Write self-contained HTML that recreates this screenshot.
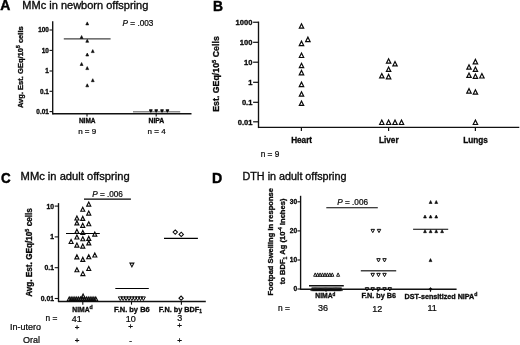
<!DOCTYPE html>
<html lang="en">
<head>
<meta charset="utf-8">
<title>Figure</title>
<style>
html,body{margin:0;padding:0;background:#fff;}
body{width:520px;height:345px;overflow:hidden;}
svg{display:block;will-change:transform;filter:grayscale(1) blur(0.3px);font-family:"Liberation Sans",sans-serif;}
</style>
</head>
<body>
<svg width="520" height="345" viewBox="0 0 520 345">
<rect width="520" height="345" fill="#fff"/>
<text transform="translate(0.3,10.3) scale(0.97,1)" font-size="14.4" font-weight="bold" fill="#000" stroke="#000" stroke-width="0.45">A</text>
<text x="22.3" y="9.4" font-size="10.0" font-weight="normal" text-anchor="start" fill="#0a0a0a" stroke="#0a0a0a" stroke-width="0.32" textLength="126" lengthAdjust="spacingAndGlyphs">MMc in newborn offspring</text>
<line x1="52.7" y1="21.3" x2="52.7" y2="114.42" stroke="#111" stroke-width="1.35"/>
<line x1="52.7" y1="113.75" x2="191.5" y2="113.75" stroke="#111" stroke-width="1.35"/>
<line x1="49.5" y1="30" x2="52.7" y2="30" stroke="#111" stroke-width="1.1"/>
<text x="48.8" y="32.3" font-size="6.4" font-weight="bold" text-anchor="end" fill="#0a0a0a" stroke="#0a0a0a" stroke-width="0.32" >100</text>
<line x1="49.5" y1="50.4" x2="52.7" y2="50.4" stroke="#111" stroke-width="1.1"/>
<text x="48.8" y="52.7" font-size="6.4" font-weight="bold" text-anchor="end" fill="#0a0a0a" stroke="#0a0a0a" stroke-width="0.32" >10</text>
<line x1="49.5" y1="71" x2="52.7" y2="71" stroke="#111" stroke-width="1.1"/>
<text x="48.8" y="73.3" font-size="6.4" font-weight="bold" text-anchor="end" fill="#0a0a0a" stroke="#0a0a0a" stroke-width="0.32" >1</text>
<line x1="49.5" y1="91.3" x2="52.7" y2="91.3" stroke="#111" stroke-width="1.1"/>
<text x="48.8" y="93.6" font-size="6.4" font-weight="bold" text-anchor="end" fill="#0a0a0a" stroke="#0a0a0a" stroke-width="0.32" >0.1</text>
<line x1="49.5" y1="111.6" x2="52.7" y2="111.6" stroke="#111" stroke-width="1.1"/>
<text x="48.8" y="113.9" font-size="6.4" font-weight="bold" text-anchor="end" fill="#0a0a0a" stroke="#0a0a0a" stroke-width="0.32" >0.01</text>
<text transform="translate(22.8,67.2) rotate(-90)" font-size="7.55" font-weight="bold" text-anchor="middle" fill="#0a0a0a" stroke="#0a0a0a" stroke-width="0.32" >Avg. Est. GEq/10<tspan dy="-2.8" font-size="5">5</tspan><tspan dy="2.8"> cells</tspan></text>
<line x1="87" y1="113.75" x2="87" y2="116.45" stroke="#111" stroke-width="1.1"/>
<text x="87.2" y="122.6" font-size="6.5" font-weight="bold" text-anchor="middle" fill="#0a0a0a" stroke="#0a0a0a" stroke-width="0.32" >NIMA</text>
<text x="87.2" y="133.5" font-size="8" font-weight="normal" text-anchor="middle" fill="#0a0a0a" stroke="#0a0a0a" stroke-width="0.24" >n = 9</text>
<line x1="156.2" y1="113.75" x2="156.2" y2="116.45" stroke="#111" stroke-width="1.1"/>
<text x="156.4" y="122.6" font-size="6.8" font-weight="bold" text-anchor="middle" fill="#0a0a0a" stroke="#0a0a0a" stroke-width="0.32" >NIPA</text>
<text x="156.6" y="133.5" font-size="8" font-weight="normal" text-anchor="middle" fill="#0a0a0a" stroke="#0a0a0a" stroke-width="0.24" >n = 4</text>
<text x="122.6" y="26" font-size="8.2" font-weight="normal" text-anchor="start" fill="#0a0a0a" stroke="#0a0a0a" stroke-width="0.24" ><tspan font-style="italic">P</tspan> = .003</text>
<line x1="63.8" y1="38.9" x2="110.6" y2="38.9" stroke="#444" stroke-width="1.4"/>
<line x1="133" y1="111.75" x2="180.2" y2="111.75" stroke="#8c8c8c" stroke-width="1.7"/>
<path d="M85.80,24.90 L87.25,21.90 L88.70,24.90 Z" fill="#0a0a0a" stroke="#0a0a0a" stroke-width="0.6" stroke-linejoin="miter"/>
<path d="M80.15,38.50 L81.60,35.50 L83.05,38.50 Z" fill="#0a0a0a" stroke="#0a0a0a" stroke-width="0.6" stroke-linejoin="miter"/>
<path d="M85.80,42.30 L87.25,39.30 L88.70,42.30 Z" fill="#0a0a0a" stroke="#0a0a0a" stroke-width="0.6" stroke-linejoin="miter"/>
<path d="M91.30,52.60 L92.75,49.60 L94.20,52.60 Z" fill="#0a0a0a" stroke="#0a0a0a" stroke-width="0.6" stroke-linejoin="miter"/>
<path d="M85.80,56.00 L87.25,53.00 L88.70,56.00 Z" fill="#0a0a0a" stroke="#0a0a0a" stroke-width="0.6" stroke-linejoin="miter"/>
<path d="M80.15,65.50 L81.60,62.50 L83.05,65.50 Z" fill="#0a0a0a" stroke="#0a0a0a" stroke-width="0.6" stroke-linejoin="miter"/>
<path d="M85.80,69.60 L87.25,66.60 L88.70,69.60 Z" fill="#0a0a0a" stroke="#0a0a0a" stroke-width="0.6" stroke-linejoin="miter"/>
<path d="M91.30,81.70 L92.75,78.70 L94.20,81.70 Z" fill="#0a0a0a" stroke="#0a0a0a" stroke-width="0.6" stroke-linejoin="miter"/>
<path d="M85.80,86.80 L87.25,83.80 L88.70,86.80 Z" fill="#0a0a0a" stroke="#0a0a0a" stroke-width="0.6" stroke-linejoin="miter"/>
<path d="M149.65,109.9 L150.80,111.9 L151.95,109.9 Z" fill="#0a0a0a" stroke="#0a0a0a" stroke-width="1.3" stroke-linejoin="round"/>
<path d="M155.05,109.9 L156.20,111.9 L157.35,109.9 Z" fill="#0a0a0a" stroke="#0a0a0a" stroke-width="1.3" stroke-linejoin="round"/>
<path d="M160.85,109.9 L162.00,111.9 L163.15,109.9 Z" fill="#0a0a0a" stroke="#0a0a0a" stroke-width="1.3" stroke-linejoin="round"/>
<path d="M166.25,109.9 L167.40,111.9 L168.55,109.9 Z" fill="#0a0a0a" stroke="#0a0a0a" stroke-width="1.3" stroke-linejoin="round"/>
<text transform="translate(212.9,10.7) scale(1.0,1)" font-size="13.8" font-weight="bold" fill="#000" stroke="#000" stroke-width="0.45">B</text>
<line x1="258.5" y1="21.6" x2="258.5" y2="128.08" stroke="#111" stroke-width="1.35"/>
<line x1="258.5" y1="127.4" x2="519.3" y2="127.4" stroke="#111" stroke-width="1.35"/>
<line x1="253.1" y1="22.25" x2="258.5" y2="22.25" stroke="#111" stroke-width="1.2"/>
<text x="252.4" y="24.95" font-size="7.55" font-weight="bold" text-anchor="end" fill="#0a0a0a" stroke="#0a0a0a" stroke-width="0.32" >1000</text>
<line x1="253.1" y1="42.3" x2="258.5" y2="42.3" stroke="#111" stroke-width="1.2"/>
<text x="252.4" y="45.0" font-size="7.55" font-weight="bold" text-anchor="end" fill="#0a0a0a" stroke="#0a0a0a" stroke-width="0.32" >100</text>
<line x1="253.1" y1="62.2" x2="258.5" y2="62.2" stroke="#111" stroke-width="1.2"/>
<text x="252.4" y="64.9" font-size="7.55" font-weight="bold" text-anchor="end" fill="#0a0a0a" stroke="#0a0a0a" stroke-width="0.32" >10</text>
<line x1="253.1" y1="82.3" x2="258.5" y2="82.3" stroke="#111" stroke-width="1.2"/>
<text x="252.4" y="85.0" font-size="7.55" font-weight="bold" text-anchor="end" fill="#0a0a0a" stroke="#0a0a0a" stroke-width="0.32" >1</text>
<line x1="253.1" y1="102.3" x2="258.5" y2="102.3" stroke="#111" stroke-width="1.2"/>
<text x="252.4" y="105.0" font-size="7.55" font-weight="bold" text-anchor="end" fill="#0a0a0a" stroke="#0a0a0a" stroke-width="0.32" >0.1</text>
<line x1="253.1" y1="121.8" x2="258.5" y2="121.8" stroke="#111" stroke-width="1.2"/>
<text x="252.4" y="124.5" font-size="7.55" font-weight="bold" text-anchor="end" fill="#0a0a0a" stroke="#0a0a0a" stroke-width="0.32" >0.01</text>
<text transform="translate(219.3,74) rotate(-90)" font-size="8.8" font-weight="bold" text-anchor="middle" fill="#0a0a0a" stroke="#0a0a0a" stroke-width="0.32" >Est. GEq/10<tspan dy="-3.2" font-size="5.8">5</tspan><tspan dy="3.2"> Cells</tspan></text>
<line x1="301.4" y1="127.4" x2="301.4" y2="131.1" stroke="#111" stroke-width="1.2"/>
<text x="301.6" y="142.9" font-size="8.2" font-weight="bold" text-anchor="middle" fill="#0a0a0a" stroke="#0a0a0a" stroke-width="0.32" >Heart</text>
<line x1="388.6" y1="127.4" x2="388.6" y2="131.1" stroke="#111" stroke-width="1.2"/>
<text x="388.8" y="142.9" font-size="8.2" font-weight="bold" text-anchor="middle" fill="#0a0a0a" stroke="#0a0a0a" stroke-width="0.32" >Liver</text>
<line x1="475.4" y1="127.4" x2="475.4" y2="131.1" stroke="#111" stroke-width="1.2"/>
<text x="475.6" y="142.9" font-size="8.2" font-weight="bold" text-anchor="middle" fill="#0a0a0a" stroke="#0a0a0a" stroke-width="0.32" >Lungs</text>
<text x="260.7" y="157.2" font-size="8.3" font-weight="normal" text-anchor="start" fill="#0a0a0a" stroke="#0a0a0a" stroke-width="0.24" >n = 9</text>
<path d="M299.30,28.20 L301.50,23.80 L303.70,28.20 Z" fill="none" stroke="#0a0a0a" stroke-width="1.2" stroke-linejoin="miter"/>
<path d="M305.70,41.60 L307.90,37.20 L310.10,41.60 Z" fill="none" stroke="#0a0a0a" stroke-width="1.2" stroke-linejoin="miter"/>
<path d="M299.30,45.60 L301.50,41.20 L303.70,45.60 Z" fill="none" stroke="#0a0a0a" stroke-width="1.2" stroke-linejoin="miter"/>
<path d="M299.30,57.50 L301.50,53.10 L303.70,57.50 Z" fill="none" stroke="#0a0a0a" stroke-width="1.2" stroke-linejoin="miter"/>
<path d="M299.30,67.70 L301.50,63.30 L303.70,67.70 Z" fill="none" stroke="#0a0a0a" stroke-width="1.2" stroke-linejoin="miter"/>
<path d="M299.30,74.80 L301.50,70.40 L303.70,74.80 Z" fill="none" stroke="#0a0a0a" stroke-width="1.2" stroke-linejoin="miter"/>
<path d="M299.30,86.60 L301.50,82.20 L303.70,86.60 Z" fill="none" stroke="#0a0a0a" stroke-width="1.2" stroke-linejoin="miter"/>
<path d="M299.30,96.20 L301.50,91.80 L303.70,96.20 Z" fill="none" stroke="#0a0a0a" stroke-width="1.2" stroke-linejoin="miter"/>
<path d="M299.30,105.40 L301.50,101.00 L303.70,105.40 Z" fill="none" stroke="#0a0a0a" stroke-width="1.2" stroke-linejoin="miter"/>
<path d="M386.40,63.20 L388.60,58.80 L390.80,63.20 Z" fill="none" stroke="#0a0a0a" stroke-width="1.2" stroke-linejoin="miter"/>
<path d="M392.80,65.90 L395.00,61.50 L397.20,65.90 Z" fill="none" stroke="#0a0a0a" stroke-width="1.2" stroke-linejoin="miter"/>
<path d="M386.40,71.40 L388.60,67.00 L390.80,71.40 Z" fill="none" stroke="#0a0a0a" stroke-width="1.2" stroke-linejoin="miter"/>
<path d="M379.60,77.90 L381.80,73.50 L384.00,77.90 Z" fill="none" stroke="#0a0a0a" stroke-width="1.2" stroke-linejoin="miter"/>
<path d="M386.40,78.80 L388.60,74.40 L390.80,78.80 Z" fill="none" stroke="#0a0a0a" stroke-width="1.2" stroke-linejoin="miter"/>
<path d="M379.60,124.50 L381.80,120.10 L384.00,124.50 Z" fill="none" stroke="#0a0a0a" stroke-width="1.2" stroke-linejoin="miter"/>
<path d="M386.40,124.50 L388.60,120.10 L390.80,124.50 Z" fill="none" stroke="#0a0a0a" stroke-width="1.2" stroke-linejoin="miter"/>
<path d="M392.80,124.50 L395.00,120.10 L397.20,124.50 Z" fill="none" stroke="#0a0a0a" stroke-width="1.2" stroke-linejoin="miter"/>
<path d="M399.30,124.50 L401.50,120.10 L403.70,124.50 Z" fill="none" stroke="#0a0a0a" stroke-width="1.2" stroke-linejoin="miter"/>
<path d="M473.20,63.80 L475.40,59.40 L477.60,63.80 Z" fill="none" stroke="#0a0a0a" stroke-width="1.2" stroke-linejoin="miter"/>
<path d="M466.80,69.20 L469.00,64.80 L471.20,69.20 Z" fill="none" stroke="#0a0a0a" stroke-width="1.2" stroke-linejoin="miter"/>
<path d="M473.20,71.40 L475.40,67.00 L477.60,71.40 Z" fill="none" stroke="#0a0a0a" stroke-width="1.2" stroke-linejoin="miter"/>
<path d="M466.80,77.40 L469.00,73.00 L471.20,77.40 Z" fill="none" stroke="#0a0a0a" stroke-width="1.2" stroke-linejoin="miter"/>
<path d="M473.20,78.40 L475.40,74.00 L477.60,78.40 Z" fill="none" stroke="#0a0a0a" stroke-width="1.2" stroke-linejoin="miter"/>
<path d="M479.70,78.00 L481.90,73.60 L484.10,78.00 Z" fill="none" stroke="#0a0a0a" stroke-width="1.2" stroke-linejoin="miter"/>
<path d="M466.80,93.10 L469.00,88.70 L471.20,93.10 Z" fill="none" stroke="#0a0a0a" stroke-width="1.2" stroke-linejoin="miter"/>
<path d="M473.20,94.20 L475.40,89.80 L477.60,94.20 Z" fill="none" stroke="#0a0a0a" stroke-width="1.2" stroke-linejoin="miter"/>
<path d="M473.20,124.50 L475.40,120.10 L477.60,124.50 Z" fill="none" stroke="#0a0a0a" stroke-width="1.2" stroke-linejoin="miter"/>
<text transform="translate(0.9,183.2) scale(0.93,1)" font-size="14.4" font-weight="bold" fill="#000" stroke="#000" stroke-width="0.45">C</text>
<text x="20.6" y="180.1" font-size="10.0" font-weight="normal" text-anchor="start" fill="#0a0a0a" stroke="#0a0a0a" stroke-width="0.32" textLength="109" lengthAdjust="spacingAndGlyphs">MMc in adult offspring</text>
<line x1="58.5" y1="203.1" x2="58.5" y2="302.12" stroke="#111" stroke-width="1.35"/>
<line x1="58.5" y1="301.45" x2="205.8" y2="301.45" stroke="#111" stroke-width="1.35"/>
<line x1="54.7" y1="206.1" x2="58.5" y2="206.1" stroke="#111" stroke-width="1.1"/>
<text x="54.0" y="208.55" font-size="6.8" font-weight="bold" text-anchor="end" fill="#0a0a0a" stroke="#0a0a0a" stroke-width="0.32" >10</text>
<line x1="54.7" y1="236.9" x2="58.5" y2="236.9" stroke="#111" stroke-width="1.1"/>
<text x="54.0" y="239.35" font-size="6.8" font-weight="bold" text-anchor="end" fill="#0a0a0a" stroke="#0a0a0a" stroke-width="0.32" >1</text>
<line x1="54.7" y1="267.7" x2="58.5" y2="267.7" stroke="#111" stroke-width="1.1"/>
<text x="54.0" y="270.15" font-size="6.8" font-weight="bold" text-anchor="end" fill="#0a0a0a" stroke="#0a0a0a" stroke-width="0.32" >0.1</text>
<line x1="54.7" y1="298.5" x2="58.5" y2="298.5" stroke="#111" stroke-width="1.1"/>
<text x="54.0" y="300.95" font-size="6.8" font-weight="bold" text-anchor="end" fill="#0a0a0a" stroke="#0a0a0a" stroke-width="0.32" >0.01</text>
<text transform="translate(31.6,252.5) rotate(-90)" font-size="8.2" font-weight="bold" text-anchor="middle" fill="#0a0a0a" stroke="#0a0a0a" stroke-width="0.32" >Avg. Est. GEq/10<tspan dy="-3" font-size="5.4">5</tspan><tspan dy="3"> cells</tspan></text>
<text x="92.2" y="196.9" font-size="8.2" font-weight="normal" text-anchor="start" fill="#0a0a0a" stroke="#0a0a0a" stroke-width="0.24" ><tspan font-style="italic">P</tspan> = .006</text>
<line x1="84" y1="199.1" x2="130.9" y2="199.1" stroke="#000" stroke-width="1.2"/>
<line x1="82.8" y1="301.45" x2="82.8" y2="304.65" stroke="#111" stroke-width="1.1"/>
<line x1="131.5" y1="301.45" x2="131.5" y2="304.65" stroke="#111" stroke-width="1.1"/>
<line x1="181.4" y1="301.45" x2="181.4" y2="304.65" stroke="#111" stroke-width="1.1"/>
<text x="82.5" y="311.5" font-size="6.75" font-weight="bold" text-anchor="middle" fill="#0a0a0a" stroke="#0a0a0a" stroke-width="0.32" >NIMA<tspan dy="-2.6" font-size="5.2">d</tspan></text>
<text x="131.8" y="311.5" font-size="7.5" font-weight="bold" text-anchor="middle" fill="#0a0a0a" stroke="#0a0a0a" stroke-width="0.32" >F.N. by B6</text>
<text x="180.4" y="311.5" font-size="7.3" font-weight="bold" text-anchor="middle" fill="#0a0a0a" stroke="#0a0a0a" stroke-width="0.32" >F.N. by BDF<tspan dy="1.6" font-size="4.8">1</tspan></text>
<text x="45.5" y="320.5" font-size="8.4" font-weight="normal" text-anchor="start" fill="#0a0a0a" stroke="#0a0a0a" stroke-width="0.24" >n =</text>
<text x="76.7" y="322" font-size="9" font-weight="normal" text-anchor="middle" fill="#0a0a0a" stroke="#0a0a0a" stroke-width="0.24" >41</text>
<text x="130.8" y="321.7" font-size="9" font-weight="normal" text-anchor="middle" fill="#0a0a0a" stroke="#0a0a0a" stroke-width="0.24" >10</text>
<text x="179.7" y="321" font-size="9" font-weight="normal" text-anchor="middle" fill="#0a0a0a" stroke="#0a0a0a" stroke-width="0.24" >3</text>
<text x="41" y="329.9" font-size="9" font-weight="normal" text-anchor="end" fill="#0a0a0a" stroke="#0a0a0a" stroke-width="0.24" >In-utero</text>
<text x="40.1" y="342.6" font-size="9" font-weight="normal" text-anchor="end" fill="#0a0a0a" stroke="#0a0a0a" stroke-width="0.24" >Oral</text>
<text x="77.2" y="330.4" font-size="8" font-weight="normal" text-anchor="middle" fill="#0a0a0a" stroke="#0a0a0a" stroke-width="0.3" >+</text>
<text x="77.2" y="342.8" font-size="8" font-weight="normal" text-anchor="middle" fill="#0a0a0a" stroke="#0a0a0a" stroke-width="0.3" >+</text>
<text x="130.6" y="329.3" font-size="8" font-weight="normal" text-anchor="middle" fill="#0a0a0a" stroke="#0a0a0a" stroke-width="0.3" >+</text>
<text x="130.6" y="343.3" font-size="8" font-weight="normal" text-anchor="middle" fill="#0a0a0a" stroke="#0a0a0a" stroke-width="0.3" >-</text>
<text x="179.6" y="328.2" font-size="8" font-weight="normal" text-anchor="middle" fill="#0a0a0a" stroke="#0a0a0a" stroke-width="0.3" >+</text>
<text x="179.6" y="342.5" font-size="8" font-weight="normal" text-anchor="middle" fill="#0a0a0a" stroke="#0a0a0a" stroke-width="0.3" >+</text>
<line x1="66" y1="233.5" x2="99.8" y2="233.5" stroke="#000" stroke-width="1.1"/>
<line x1="115.3" y1="288.5" x2="148.8" y2="288.5" stroke="#000" stroke-width="1.1"/>
<line x1="164" y1="238.4" x2="197.9" y2="238.4" stroke="#000" stroke-width="1.1"/>
<path d="M86.75,206.10 L88.75,202.10 L90.75,206.10 Z" fill="none" stroke="#0a0a0a" stroke-width="1.15" stroke-linejoin="miter"/>
<path d="M80.75,211.20 L82.75,207.20 L84.75,211.20 Z" fill="none" stroke="#0a0a0a" stroke-width="1.15" stroke-linejoin="miter"/>
<path d="M86.75,215.10 L88.75,211.10 L90.75,215.10 Z" fill="none" stroke="#0a0a0a" stroke-width="1.15" stroke-linejoin="miter"/>
<path d="M74.90,220.00 L76.90,216.00 L78.90,220.00 Z" fill="none" stroke="#0a0a0a" stroke-width="1.15" stroke-linejoin="miter"/>
<path d="M80.75,220.40 L82.75,216.40 L84.75,220.40 Z" fill="none" stroke="#0a0a0a" stroke-width="1.15" stroke-linejoin="miter"/>
<path d="M86.75,225.70 L88.75,221.70 L90.75,225.70 Z" fill="none" stroke="#0a0a0a" stroke-width="1.15" stroke-linejoin="miter"/>
<path d="M74.90,224.90 L76.90,220.90 L78.90,224.90 Z" fill="none" stroke="#0a0a0a" stroke-width="1.15" stroke-linejoin="miter"/>
<path d="M80.75,227.30 L82.75,223.30 L84.75,227.30 Z" fill="none" stroke="#0a0a0a" stroke-width="1.15" stroke-linejoin="miter"/>
<path d="M74.90,233.30 L76.90,229.30 L78.90,233.30 Z" fill="none" stroke="#0a0a0a" stroke-width="1.15" stroke-linejoin="miter"/>
<path d="M80.80,234.50 L82.80,230.50 L84.80,234.50 Z" fill="none" stroke="#0a0a0a" stroke-width="1.15" stroke-linejoin="miter"/>
<path d="M92.80,236.10 L94.80,232.10 L96.80,236.10 Z" fill="none" stroke="#0a0a0a" stroke-width="1.15" stroke-linejoin="miter"/>
<path d="M74.90,239.00 L76.90,235.00 L78.90,239.00 Z" fill="none" stroke="#0a0a0a" stroke-width="1.15" stroke-linejoin="miter"/>
<path d="M80.80,240.70 L82.80,236.70 L84.80,240.70 Z" fill="none" stroke="#0a0a0a" stroke-width="1.15" stroke-linejoin="miter"/>
<path d="M86.75,240.40 L88.75,236.40 L90.75,240.40 Z" fill="none" stroke="#0a0a0a" stroke-width="1.15" stroke-linejoin="miter"/>
<path d="M69.10,243.50 L71.10,239.50 L73.10,243.50 Z" fill="none" stroke="#0a0a0a" stroke-width="1.15" stroke-linejoin="miter"/>
<path d="M86.75,244.90 L88.75,240.90 L90.75,244.90 Z" fill="none" stroke="#0a0a0a" stroke-width="1.15" stroke-linejoin="miter"/>
<path d="M74.90,247.10 L76.90,243.10 L78.90,247.10 Z" fill="none" stroke="#0a0a0a" stroke-width="1.15" stroke-linejoin="miter"/>
<path d="M80.80,248.10 L82.80,244.10 L84.80,248.10 Z" fill="none" stroke="#0a0a0a" stroke-width="1.15" stroke-linejoin="miter"/>
<path d="M92.80,257.00 L94.80,253.00 L96.80,257.00 Z" fill="none" stroke="#0a0a0a" stroke-width="1.15" stroke-linejoin="miter"/>
<path d="M74.90,258.80 L76.90,254.80 L78.90,258.80 Z" fill="none" stroke="#0a0a0a" stroke-width="1.15" stroke-linejoin="miter"/>
<path d="M80.80,261.40 L82.80,257.40 L84.80,261.40 Z" fill="none" stroke="#0a0a0a" stroke-width="1.15" stroke-linejoin="miter"/>
<path d="M86.75,258.70 L88.75,254.70 L90.75,258.70 Z" fill="none" stroke="#0a0a0a" stroke-width="1.15" stroke-linejoin="miter"/>
<path d="M74.90,271.70 L76.90,267.70 L78.90,271.70 Z" fill="none" stroke="#0a0a0a" stroke-width="1.15" stroke-linejoin="miter"/>
<path d="M80.90,275.60 L82.90,271.60 L84.90,275.60 Z" fill="none" stroke="#0a0a0a" stroke-width="1.15" stroke-linejoin="miter"/>
<path d="M86.75,270.50 L88.75,266.50 L90.75,270.50 Z" fill="none" stroke="#0a0a0a" stroke-width="1.15" stroke-linejoin="miter"/>
<path d="M67.20,301.00 L69.20,297.00 L71.20,301.00 Z" fill="none" stroke="#0a0a0a" stroke-width="1.15" stroke-linejoin="miter"/>
<path d="M69.10,301.00 L71.10,297.00 L73.10,301.00 Z" fill="none" stroke="#0a0a0a" stroke-width="1.15" stroke-linejoin="miter"/>
<path d="M71.00,301.00 L73.00,297.00 L75.00,301.00 Z" fill="none" stroke="#0a0a0a" stroke-width="1.15" stroke-linejoin="miter"/>
<path d="M72.90,301.00 L74.90,297.00 L76.90,301.00 Z" fill="none" stroke="#0a0a0a" stroke-width="1.15" stroke-linejoin="miter"/>
<path d="M74.80,301.00 L76.80,297.00 L78.80,301.00 Z" fill="none" stroke="#0a0a0a" stroke-width="1.15" stroke-linejoin="miter"/>
<path d="M76.70,301.00 L78.70,297.00 L80.70,301.00 Z" fill="none" stroke="#0a0a0a" stroke-width="1.15" stroke-linejoin="miter"/>
<path d="M78.60,301.00 L80.60,297.00 L82.60,301.00 Z" fill="none" stroke="#0a0a0a" stroke-width="1.15" stroke-linejoin="miter"/>
<path d="M80.50,301.00 L82.50,297.00 L84.50,301.00 Z" fill="none" stroke="#0a0a0a" stroke-width="1.15" stroke-linejoin="miter"/>
<path d="M82.40,301.00 L84.40,297.00 L86.40,301.00 Z" fill="none" stroke="#0a0a0a" stroke-width="1.15" stroke-linejoin="miter"/>
<path d="M84.30,301.00 L86.30,297.00 L88.30,301.00 Z" fill="none" stroke="#0a0a0a" stroke-width="1.15" stroke-linejoin="miter"/>
<path d="M86.20,301.00 L88.20,297.00 L90.20,301.00 Z" fill="none" stroke="#0a0a0a" stroke-width="1.15" stroke-linejoin="miter"/>
<path d="M88.10,301.00 L90.10,297.00 L92.10,301.00 Z" fill="none" stroke="#0a0a0a" stroke-width="1.15" stroke-linejoin="miter"/>
<path d="M90.00,301.00 L92.00,297.00 L94.00,301.00 Z" fill="none" stroke="#0a0a0a" stroke-width="1.15" stroke-linejoin="miter"/>
<path d="M91.90,301.00 L93.90,297.00 L95.90,301.00 Z" fill="none" stroke="#0a0a0a" stroke-width="1.15" stroke-linejoin="miter"/>
<path d="M93.80,301.00 L95.80,297.00 L97.80,301.00 Z" fill="none" stroke="#0a0a0a" stroke-width="1.15" stroke-linejoin="miter"/>
<path d="M81.10,298.10 L83.10,294.10 L85.10,298.10 Z" fill="none" stroke="#0a0a0a" stroke-width="1.15" stroke-linejoin="miter"/>
<path d="M129.90,263.10 L131.90,266.90 L133.90,263.10 Z" fill="none" stroke="#0a0a0a" stroke-width="1.05" stroke-linejoin="miter"/>
<path d="M118.30,296.90 L120.30,300.50 L122.30,296.90 Z" fill="none" stroke="#0a0a0a" stroke-width="1.0" stroke-linejoin="miter"/>
<path d="M121.19,296.90 L123.19,300.50 L125.19,296.90 Z" fill="none" stroke="#0a0a0a" stroke-width="1.0" stroke-linejoin="miter"/>
<path d="M124.08,296.90 L126.08,300.50 L128.07,296.90 Z" fill="none" stroke="#0a0a0a" stroke-width="1.0" stroke-linejoin="miter"/>
<path d="M126.96,296.90 L128.96,300.50 L130.96,296.90 Z" fill="none" stroke="#0a0a0a" stroke-width="1.0" stroke-linejoin="miter"/>
<path d="M129.85,296.90 L131.85,300.50 L133.85,296.90 Z" fill="none" stroke="#0a0a0a" stroke-width="1.0" stroke-linejoin="miter"/>
<path d="M132.74,296.90 L134.74,300.50 L136.74,296.90 Z" fill="none" stroke="#0a0a0a" stroke-width="1.0" stroke-linejoin="miter"/>
<path d="M135.62,296.90 L137.62,300.50 L139.62,296.90 Z" fill="none" stroke="#0a0a0a" stroke-width="1.0" stroke-linejoin="miter"/>
<path d="M138.51,296.90 L140.51,300.50 L142.51,296.90 Z" fill="none" stroke="#0a0a0a" stroke-width="1.0" stroke-linejoin="miter"/>
<path d="M141.40,296.90 L143.40,300.50 L145.40,296.90 Z" fill="none" stroke="#0a0a0a" stroke-width="1.0" stroke-linejoin="miter"/>
<path d="M173.05,232.10 L175.25,229.90 L177.45,232.10 L175.25,234.30 Z" fill="none" stroke="#0a0a0a" stroke-width="1.05"/>
<path d="M179.05,234.40 L181.25,232.20 L183.45,234.40 L181.25,236.60 Z" fill="none" stroke="#0a0a0a" stroke-width="1.05"/>
<path d="M179.00,298.20 L181.10,296.10 L183.20,298.20 L181.10,300.30 Z" fill="none" stroke="#0a0a0a" stroke-width="1.1"/>
<text transform="translate(212.0,183.3) scale(0.98,1)" font-size="14.4" font-weight="bold" fill="#000" stroke="#000" stroke-width="0.45">D</text>
<text x="242.5" y="180.3" font-size="10.0" font-weight="normal" text-anchor="start" fill="#0a0a0a" stroke="#0a0a0a" stroke-width="0.32" textLength="104" lengthAdjust="spacingAndGlyphs">DTH in adult offspring</text>
<line x1="300.6" y1="195.8" x2="300.6" y2="289.88" stroke="#111" stroke-width="1.35"/>
<line x1="300.6" y1="289.2" x2="456.6" y2="289.2" stroke="#111" stroke-width="1.35"/>
<line x1="297.4" y1="201.8" x2="300.6" y2="201.8" stroke="#111" stroke-width="1.1"/>
<text x="297.1" y="204.2" font-size="6.6" font-weight="bold" text-anchor="end" fill="#0a0a0a" stroke="#0a0a0a" stroke-width="0.32" >30</text>
<line x1="297.4" y1="230.9" x2="300.6" y2="230.9" stroke="#111" stroke-width="1.1"/>
<text x="297.1" y="233.3" font-size="6.6" font-weight="bold" text-anchor="end" fill="#0a0a0a" stroke="#0a0a0a" stroke-width="0.32" >20</text>
<line x1="297.4" y1="260" x2="300.6" y2="260" stroke="#111" stroke-width="1.1"/>
<text x="297.1" y="262.4" font-size="6.6" font-weight="bold" text-anchor="end" fill="#0a0a0a" stroke="#0a0a0a" stroke-width="0.32" >10</text>
<line x1="297.4" y1="289" x2="300.6" y2="289" stroke="#111" stroke-width="1.1"/>
<text x="297.1" y="291.4" font-size="6.6" font-weight="bold" text-anchor="end" fill="#0a0a0a" stroke="#0a0a0a" stroke-width="0.32" >0</text>
<text transform="translate(273.3,241.7) rotate(-90)" font-size="7.58" font-weight="bold" text-anchor="middle" fill="#0a0a0a" stroke="#0a0a0a" stroke-width="0.32" >Footpad Swelling in response</text>
<text transform="translate(285.0,241.4) rotate(-90)" font-size="7.58" font-weight="bold" text-anchor="middle" fill="#0a0a0a" stroke="#0a0a0a" stroke-width="0.32" >to BDF<tspan dy="1.7" font-size="5">1</tspan><tspan dy="-1.7"> Ag (10</tspan><tspan dy="-2.8" font-size="5">-4</tspan><tspan dy="2.8"> inches)</tspan></text>
<text x="337.3" y="204.6" font-size="8.2" font-weight="normal" text-anchor="start" fill="#0a0a0a" stroke="#0a0a0a" stroke-width="0.24" ><tspan font-style="italic">P</tspan> = .006</text>
<line x1="326.3" y1="207.75" x2="377.8" y2="207.75" stroke="#000" stroke-width="1.2"/>
<line x1="326" y1="289.2" x2="326" y2="291.8" stroke="#111" stroke-width="1.1"/>
<line x1="377.8" y1="289.2" x2="377.8" y2="291.8" stroke="#111" stroke-width="1.1"/>
<line x1="430.5" y1="289.2" x2="430.5" y2="291.8" stroke="#111" stroke-width="1.1"/>
<text x="325.4" y="298.4" font-size="6.75" font-weight="bold" text-anchor="middle" fill="#0a0a0a" stroke="#0a0a0a" stroke-width="0.32" >NIMA<tspan dy="-2.6" font-size="4.6">d</tspan></text>
<text x="378.8" y="298.3" font-size="7.25" font-weight="bold" text-anchor="middle" fill="#0a0a0a" stroke="#0a0a0a" stroke-width="0.32" >F.N. by B6</text>
<text x="441" y="298.6" font-size="7.2" font-weight="bold" text-anchor="middle" fill="#0a0a0a" stroke="#0a0a0a" stroke-width="0.32" >DST-sensitized NIPA<tspan dy="-2.6" font-size="5.2">d</tspan></text>
<text x="278" y="310.6" font-size="8.4" font-weight="normal" text-anchor="start" fill="#0a0a0a" stroke="#0a0a0a" stroke-width="0.24" >n =</text>
<text x="323" y="311.3" font-size="9" font-weight="normal" text-anchor="middle" fill="#0a0a0a" stroke="#0a0a0a" stroke-width="0.24" >36</text>
<text x="377.3" y="312" font-size="9" font-weight="normal" text-anchor="middle" fill="#0a0a0a" stroke="#0a0a0a" stroke-width="0.24" >12</text>
<text x="432.1" y="311.4" font-size="9" font-weight="normal" text-anchor="middle" fill="#0a0a0a" stroke="#0a0a0a" stroke-width="0.24" >11</text>
<line x1="309" y1="285.8" x2="343.8" y2="285.8" stroke="#111" stroke-width="1.4"/>
<line x1="360.8" y1="270.8" x2="396.2" y2="270.8" stroke="#444" stroke-width="1.4"/>
<line x1="413.1" y1="229.3" x2="448.2" y2="229.3" stroke="#000" stroke-width="1.1"/>
<path d="M313.65,276.30 L315.20,272.90 L316.75,276.30 Z" fill="none" stroke="#0a0a0a" stroke-width="0.9" stroke-linejoin="miter"/>
<path d="M316.09,276.30 L317.64,272.90 L319.19,276.30 Z" fill="none" stroke="#0a0a0a" stroke-width="0.9" stroke-linejoin="miter"/>
<path d="M318.54,276.30 L320.09,272.90 L321.64,276.30 Z" fill="none" stroke="#0a0a0a" stroke-width="0.9" stroke-linejoin="miter"/>
<path d="M320.98,276.30 L322.53,272.90 L324.08,276.30 Z" fill="none" stroke="#0a0a0a" stroke-width="0.9" stroke-linejoin="miter"/>
<path d="M323.42,276.30 L324.97,272.90 L326.52,276.30 Z" fill="none" stroke="#0a0a0a" stroke-width="0.9" stroke-linejoin="miter"/>
<path d="M325.86,276.30 L327.41,272.90 L328.96,276.30 Z" fill="none" stroke="#0a0a0a" stroke-width="0.9" stroke-linejoin="miter"/>
<path d="M328.31,276.30 L329.86,272.90 L331.41,276.30 Z" fill="none" stroke="#0a0a0a" stroke-width="0.9" stroke-linejoin="miter"/>
<path d="M330.75,276.30 L332.30,272.90 L333.85,276.30 Z" fill="none" stroke="#0a0a0a" stroke-width="0.9" stroke-linejoin="miter"/>
<path d="M336.55,276.30 L338.10,272.90 L339.65,276.30 Z" fill="none" stroke="#0a0a0a" stroke-width="0.9" stroke-linejoin="miter"/>
<path d="M310.70,290.60 L312.20,287.40 L313.70,290.60 Z" fill="none" stroke="#0a0a0a" stroke-width="0.7" stroke-linejoin="miter"/>
<path d="M311.81,290.60 L313.31,287.40 L314.81,290.60 Z" fill="none" stroke="#0a0a0a" stroke-width="0.7" stroke-linejoin="miter"/>
<path d="M312.92,290.60 L314.42,287.40 L315.92,290.60 Z" fill="none" stroke="#0a0a0a" stroke-width="0.7" stroke-linejoin="miter"/>
<path d="M314.02,290.60 L315.52,287.40 L317.02,290.60 Z" fill="none" stroke="#0a0a0a" stroke-width="0.7" stroke-linejoin="miter"/>
<path d="M315.13,290.60 L316.63,287.40 L318.13,290.60 Z" fill="none" stroke="#0a0a0a" stroke-width="0.7" stroke-linejoin="miter"/>
<path d="M316.24,290.60 L317.74,287.40 L319.24,290.60 Z" fill="none" stroke="#0a0a0a" stroke-width="0.7" stroke-linejoin="miter"/>
<path d="M317.35,290.60 L318.85,287.40 L320.35,290.60 Z" fill="none" stroke="#0a0a0a" stroke-width="0.7" stroke-linejoin="miter"/>
<path d="M318.45,290.60 L319.95,287.40 L321.45,290.60 Z" fill="none" stroke="#0a0a0a" stroke-width="0.7" stroke-linejoin="miter"/>
<path d="M319.56,290.60 L321.06,287.40 L322.56,290.60 Z" fill="none" stroke="#0a0a0a" stroke-width="0.7" stroke-linejoin="miter"/>
<path d="M320.67,290.60 L322.17,287.40 L323.67,290.60 Z" fill="none" stroke="#0a0a0a" stroke-width="0.7" stroke-linejoin="miter"/>
<path d="M321.78,290.60 L323.28,287.40 L324.78,290.60 Z" fill="none" stroke="#0a0a0a" stroke-width="0.7" stroke-linejoin="miter"/>
<path d="M322.88,290.60 L324.38,287.40 L325.88,290.60 Z" fill="none" stroke="#0a0a0a" stroke-width="0.7" stroke-linejoin="miter"/>
<path d="M323.99,290.60 L325.49,287.40 L326.99,290.60 Z" fill="none" stroke="#0a0a0a" stroke-width="0.7" stroke-linejoin="miter"/>
<path d="M325.10,290.60 L326.60,287.40 L328.10,290.60 Z" fill="none" stroke="#0a0a0a" stroke-width="0.7" stroke-linejoin="miter"/>
<path d="M326.21,290.60 L327.71,287.40 L329.21,290.60 Z" fill="none" stroke="#0a0a0a" stroke-width="0.7" stroke-linejoin="miter"/>
<path d="M327.32,290.60 L328.82,287.40 L330.32,290.60 Z" fill="none" stroke="#0a0a0a" stroke-width="0.7" stroke-linejoin="miter"/>
<path d="M328.42,290.60 L329.92,287.40 L331.42,290.60 Z" fill="none" stroke="#0a0a0a" stroke-width="0.7" stroke-linejoin="miter"/>
<path d="M329.53,290.60 L331.03,287.40 L332.53,290.60 Z" fill="none" stroke="#0a0a0a" stroke-width="0.7" stroke-linejoin="miter"/>
<path d="M330.64,290.60 L332.14,287.40 L333.64,290.60 Z" fill="none" stroke="#0a0a0a" stroke-width="0.7" stroke-linejoin="miter"/>
<path d="M331.75,290.60 L333.25,287.40 L334.75,290.60 Z" fill="none" stroke="#0a0a0a" stroke-width="0.7" stroke-linejoin="miter"/>
<path d="M332.85,290.60 L334.35,287.40 L335.85,290.60 Z" fill="none" stroke="#0a0a0a" stroke-width="0.7" stroke-linejoin="miter"/>
<path d="M333.96,290.60 L335.46,287.40 L336.96,290.60 Z" fill="none" stroke="#0a0a0a" stroke-width="0.7" stroke-linejoin="miter"/>
<path d="M335.07,290.60 L336.57,287.40 L338.07,290.60 Z" fill="none" stroke="#0a0a0a" stroke-width="0.7" stroke-linejoin="miter"/>
<path d="M336.18,290.60 L337.68,287.40 L339.18,290.60 Z" fill="none" stroke="#0a0a0a" stroke-width="0.7" stroke-linejoin="miter"/>
<path d="M337.28,290.60 L338.78,287.40 L340.28,290.60 Z" fill="none" stroke="#0a0a0a" stroke-width="0.7" stroke-linejoin="miter"/>
<path d="M338.39,290.60 L339.89,287.40 L341.39,290.60 Z" fill="none" stroke="#0a0a0a" stroke-width="0.7" stroke-linejoin="miter"/>
<path d="M339.50,290.60 L341.00,287.40 L342.50,290.60 Z" fill="none" stroke="#0a0a0a" stroke-width="0.7" stroke-linejoin="miter"/>
<path d="M371.00,229.35 L372.75,232.65 L374.50,229.35 Z" fill="none" stroke="#0a0a0a" stroke-width="1.0" stroke-linejoin="miter"/>
<path d="M377.25,229.35 L379.00,232.65 L380.75,229.35 Z" fill="none" stroke="#0a0a0a" stroke-width="1.0" stroke-linejoin="miter"/>
<path d="M376.75,258.65 L378.50,261.95 L380.25,258.65 Z" fill="none" stroke="#0a0a0a" stroke-width="1.0" stroke-linejoin="miter"/>
<path d="M382.75,258.65 L384.50,261.95 L386.25,258.65 Z" fill="none" stroke="#0a0a0a" stroke-width="1.0" stroke-linejoin="miter"/>
<path d="M370.95,273.35 L372.70,276.65 L374.45,273.35 Z" fill="none" stroke="#0a0a0a" stroke-width="1.0" stroke-linejoin="miter"/>
<path d="M376.75,273.35 L378.50,276.65 L380.25,273.35 Z" fill="none" stroke="#0a0a0a" stroke-width="1.0" stroke-linejoin="miter"/>
<path d="M382.75,273.35 L384.50,276.65 L386.25,273.35 Z" fill="none" stroke="#0a0a0a" stroke-width="1.0" stroke-linejoin="miter"/>
<path d="M365.25,287.65 L367.00,290.95 L368.75,287.65 Z" fill="none" stroke="#0a0a0a" stroke-width="1.0" stroke-linejoin="miter"/>
<path d="M370.95,287.65 L372.70,290.95 L374.45,287.65 Z" fill="none" stroke="#0a0a0a" stroke-width="1.0" stroke-linejoin="miter"/>
<path d="M376.75,287.65 L378.50,290.95 L380.25,287.65 Z" fill="none" stroke="#0a0a0a" stroke-width="1.0" stroke-linejoin="miter"/>
<path d="M382.75,287.65 L384.50,290.95 L386.25,287.65 Z" fill="none" stroke="#0a0a0a" stroke-width="1.0" stroke-linejoin="miter"/>
<path d="M388.05,287.65 L389.80,290.95 L391.55,287.65 Z" fill="none" stroke="#0a0a0a" stroke-width="1.0" stroke-linejoin="miter"/>
<path d="M429.15,203.50 L430.60,200.50 L432.05,203.50 Z" fill="#0a0a0a" stroke="#0a0a0a" stroke-width="0.6" stroke-linejoin="miter"/>
<path d="M434.80,203.50 L436.25,200.50 L437.70,203.50 Z" fill="#0a0a0a" stroke="#0a0a0a" stroke-width="0.6" stroke-linejoin="miter"/>
<path d="M423.55,218.00 L425.00,215.00 L426.45,218.00 Z" fill="#0a0a0a" stroke="#0a0a0a" stroke-width="0.6" stroke-linejoin="miter"/>
<path d="M429.15,218.00 L430.60,215.00 L432.05,218.00 Z" fill="#0a0a0a" stroke="#0a0a0a" stroke-width="0.6" stroke-linejoin="miter"/>
<path d="M434.80,218.00 L436.25,215.00 L437.70,218.00 Z" fill="#0a0a0a" stroke="#0a0a0a" stroke-width="0.6" stroke-linejoin="miter"/>
<path d="M423.55,232.70 L425.00,229.70 L426.45,232.70 Z" fill="#0a0a0a" stroke="#0a0a0a" stroke-width="0.6" stroke-linejoin="miter"/>
<path d="M429.15,232.70 L430.60,229.70 L432.05,232.70 Z" fill="#0a0a0a" stroke="#0a0a0a" stroke-width="0.6" stroke-linejoin="miter"/>
<path d="M434.80,232.70 L436.25,229.70 L437.70,232.70 Z" fill="#0a0a0a" stroke="#0a0a0a" stroke-width="0.6" stroke-linejoin="miter"/>
<path d="M440.65,232.70 L442.10,229.70 L443.55,232.70 Z" fill="#0a0a0a" stroke="#0a0a0a" stroke-width="0.6" stroke-linejoin="miter"/>
<path d="M429.05,261.60 L430.50,258.60 L431.95,261.60 Z" fill="#0a0a0a" stroke="#0a0a0a" stroke-width="0.6" stroke-linejoin="miter"/>
<path d="M428.80,289.10 L430.50,287.40 L432.20,289.10 L430.50,290.80 Z" fill="#0a0a0a" stroke="#0a0a0a" stroke-width="0.5"/>
</svg>
</body>
</html>
